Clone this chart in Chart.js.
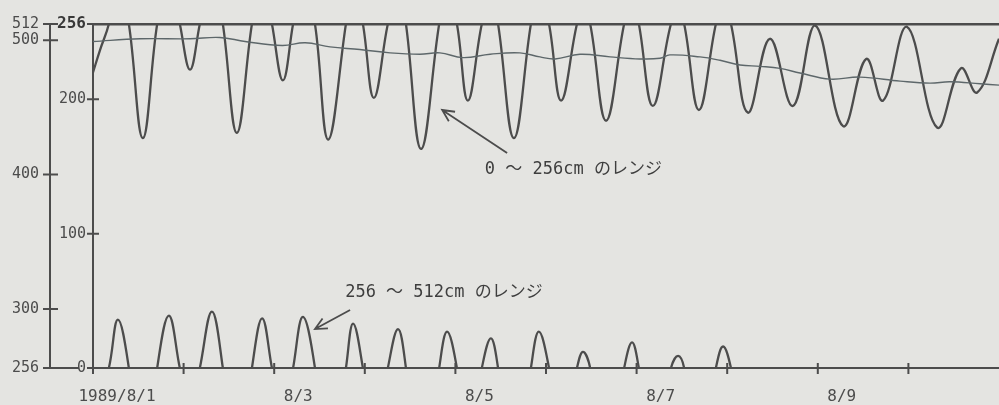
<!DOCTYPE html>
<html>
<head>
<meta charset="utf-8">
<script src="https://cdn.jsdelivr.net/npm/chart.js@4/dist/chart.umd.min.js"></script>
<style>
html, body { margin: 0; padding: 0; background: #e4e4e1; overflow: hidden; }
canvas { display: block; }
</style>
</head>
<body>
<canvas id="tide" width="999" height="405"></canvas>
<script>
// tide gauge record, hours since 1989/8/1 00:00 -> water level (cm)
// the same record is drawn twice: once on the 0-256 range and once on the 256-512 range
var tideHours = [0, 1.9, 4.2, 6.6, 9.5, 13.2, 17.0, 20.1, 23.0, 25.7, 28.3, 31.5, 34.4, 38.1,
    42.1, 44.8, 47.4, 50.3, 53.0, 55.6, 58.8, 62.3, 67.0, 68.9, 71.5, 74.4, 78.1, 80.8,
    82.9, 86.9, 91.7, 93.8, 96.4, 99.3, 103.0, 105.4, 107.3, 111.5, 116.0, 118.1, 120.8,
    124.0, 128.2, 129.8, 131.7, 135.9, 140.7, 142.8, 144.6, 148.3, 153.1, 155.0, 156.6,
    160.5, 165.0, 166.9, 169.0, 173.5, 179.3, 185.4, 191.3, 198.7, 204.8, 209.3, 215.6,
    223.6, 229.9, 234.2, 240.0];
var tideLevels = [220, 237, 256, 292, 256, 171, 256, 295, 256, 222, 256, 298, 256, 175,
    256, 293, 256, 214, 256, 294, 256, 170, 256, 289, 256, 201, 256, 285,
    256, 163, 256, 283, 256, 199, 256, 278, 256, 171, 256, 283, 256,
    199, 256, 268, 256, 184, 256, 275, 256, 195, 256, 265, 256,
    192, 256, 272, 256, 190, 245, 195, 255, 180, 230, 199, 254,
    179, 223, 205, 245];

// slowly varying mean level (thin line)
var meanHours = [0, 12.5, 25.7, 33.6, 40.3, 50.1, 56.2, 62.8, 70.7, 78.7, 86.6, 91.9, 98.0,
    105.2, 113.1, 118.4, 122.4, 129.0, 137.0, 144.9, 150.2, 152.8, 160.8, 166.1, 171.4,
    176.7, 182.0, 187.3, 195.2, 203.2, 213.8, 221.7, 227.0, 235.0, 240.0];
var meanLevels = [243, 245, 245, 246, 243, 240, 242, 239, 237, 234.5, 233.5, 234.5, 231,
    233.5, 234.5, 231.5, 230, 233.5, 231.5, 230, 230.5, 233, 231.5, 229, 225.5,
    224.5, 223, 219.5, 215, 216.5, 213.5, 212, 213, 211.5, 210.5];

var dayTicks = [0, 24, 48, 72, 96, 120, 144, 168, 192, 216];
var dayLabels = ['1989/8/1', '', '8/3', '', '8/5', '', '8/7', '', '8/9', ''];
var lowTicks = [0, 100, 200, 256];
var highTicks = [256, 300, 400, 500, 512];

var notes = [
    {text: '0 ～ 256cm のレンジ', h: 103.8, v: 147.3, fromH: 109.7, fromV: 160, toH: 92.5, toV: 192},
    {text: '256 ～ 512cm のレンジ', h: 66.8, v: 55.8, fromH: 68.1, fromV: 43.2, toH: 58.8, toV: 29}
];

var INK = '#4c4c4c';
var MONO = '"DejaVu Sans Mono", "Liberation Mono", monospace';

function points(){
    var out = [];
    for(var i=0; i<tideHours.length; i++){
        out.push({x: tideHours[i], y: tideLevels[i]});
    }
    return out;
}

function arrow(c, x1, y1, x2, y2){
    var a = Math.atan2(y2 - y1, x2 - x1);
    c.beginPath();
    c.moveTo(x1, y1);
    c.lineTo(x2, y2);
    c.moveTo(x2 - 13 * Math.cos(a - 0.45), y2 - 13 * Math.sin(a - 0.45));
    c.lineTo(x2, y2);
    c.lineTo(x2 - 13 * Math.cos(a + 0.45), y2 - 13 * Math.sin(a + 0.45));
    c.stroke();
}

// tick marks that cross the axis lines, plus the two hand-written notes
const decor = {
    id: 'decor',
    afterDraw(chart){
        const c = chart.ctx;
        const x = chart.scales.x, lo = chart.scales.yLow, hi = chart.scales.yHigh;
        c.save();
        c.strokeStyle = INK;
        c.lineWidth = 2;
        c.beginPath();
        highTicks.forEach(v => {
            const py = hi.getPixelForValue(v);
            c.moveTo(hi.right - 7, py);
            c.lineTo(v === 256 ? lo.left + 29 : hi.right + 8, py);
        });
        lowTicks.forEach(v => {
            const py = lo.getPixelForValue(v);
            c.moveTo(lo.right - 6, py);
            c.lineTo(lo.right + 6, py);
        });
        dayTicks.forEach(v => {
            const px = x.getPixelForValue(v);
            c.moveTo(px, x.top - 5);
            c.lineTo(px, x.top + 6);
        });
        c.stroke();

        c.lineWidth = 1.8;
        c.fillStyle = '#3e3e3e';
        c.font = '17px ' + MONO + ', "Noto Sans CJK JP"';
        c.textBaseline = 'middle';
        c.textAlign = 'left';
        notes.forEach(n => {
            c.fillText(n.text, x.getPixelForValue(n.h), lo.getPixelForValue(n.v));
            arrow(c, x.getPixelForValue(n.fromH), lo.getPixelForValue(n.fromV),
                  x.getPixelForValue(n.toH), lo.getPixelForValue(n.toV));
        });
        c.restore();
    }
};

const ctx = document.getElementById('tide').getContext('2d');
const tideChart = new Chart(ctx, {
    type: 'line',
    data: {
        datasets: [
            {
                label: 'mean',
                data: meanHours.map((h, i) => ({x: h, y: meanLevels[i]})),
                yAxisID: 'yLow',
                borderColor: '#5d676a',
                borderWidth: 1.4,
                pointRadius: 0,
                tension: 0.4,
                clip: 0
            },
            {
                label: '0 - 256cm',
                data: points(),
                yAxisID: 'yLow',
                borderColor: INK,
                borderWidth: 2.3,
                pointRadius: 0,
                tension: 0.4,
                clip: 0
            },
            {
                label: '256 - 512cm',
                data: points(),
                yAxisID: 'yHigh',
                borderColor: INK,
                borderWidth: 2.3,
                pointRadius: 0,
                tension: 0.4,
                clip: 0
            }
        ]
    },
    options: {
        responsive: false,
        animation: false,
        layout: {padding: {top: 24, right: 0, left: 0, bottom: 0}},
        plugins: {legend: {display: false}, tooltip: {enabled: false}},
        scales: {
            x: {
                type: 'linear',
                min: 0,
                max: 240,
                afterBuildTicks: s => { s.ticks = dayTicks.map(v => ({value: v})); },
                afterFit: s => { s.height = 37; },
                grid: {display: false, drawTicks: false},
                border: {display: true, color: INK, width: 2},
                ticks: {
                    autoSkip: false,
                    maxRotation: 0,
                    minRotation: 0,
                    padding: 19,
                    labelOffset: 24,
                    color: INK,
                    font: {family: MONO, size: 16},
                    callback: v => dayLabels[dayTicks.indexOf(v)] || ''
                }
            },
            yLow: {
                type: 'linear',
                position: 'left',
                weight: 0,
                min: 0,
                max: 256,
                afterBuildTicks: s => { s.ticks = lowTicks.map(v => ({value: v})); },
                afterFit: s => { s.width = 43; },
                grid: {
                    drawOnChartArea: true,
                    drawTicks: false,
                    color: c => (c.tick && c.tick.value === 256) ? INK : 'rgba(0,0,0,0)',
                    lineWidth: 2.6
                },
                border: {display: true, color: INK, width: 2},
                ticks: {
                    autoSkip: false,
                    padding: 7,
                    color: c => (c.tick && c.tick.value === 256) ? '#383838' : INK,
                    font: c => (c.tick && c.tick.value === 256)
                        ? {family: MONO, size: 16, weight: 'bold'}
                        : {family: MONO, size: 15}
                }
            },
            yHigh: {
                type: 'linear',
                position: 'left',
                weight: 1,
                min: 256,
                max: 512,
                afterBuildTicks: s => { s.ticks = highTicks.map(v => ({value: v})); },
                afterFit: s => { s.width = 50; },
                grid: {display: false, drawTicks: false},
                border: {display: true, color: INK, width: 2},
                ticks: {
                    autoSkip: false,
                    padding: 11,
                    color: INK,
                    font: {family: MONO, size: 15}
                }
            }
        }
    },
    plugins: [decor]
});
</script>
</body>
</html>
